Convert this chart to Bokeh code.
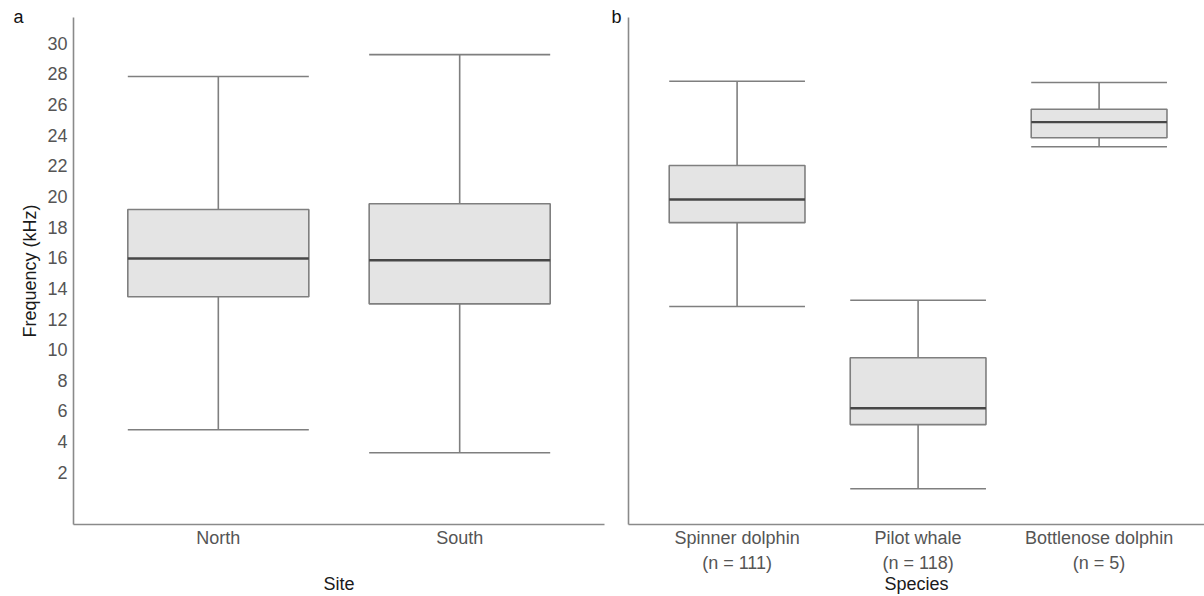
from bokeh.plotting import figure
from bokeh.layouts import row
from bokeh.models import Range1d, FixedTicker, Title, ColumnDataSource
from bokeh.embed import file_html
from bokeh.resources import INLINE

# ---------------- data ----------------
sites = ["North", "South"]
site_lower = [4.77, 3.27]
site_q1 = [13.45, 12.99]
site_median = [15.95, 15.84]
site_q3 = [19.15, 19.52]
site_upper = [27.83, 29.26]

species = ["Spinner dolphin", "Pilot whale", "Bottlenose dolphin"]
species_n = [111, 118, 5]
species_lower = [12.82, 0.92, 23.24]
species_q1 = [18.29, 5.11, 23.83]
species_median = [19.80, 6.18, 24.85]
species_q3 = [22.02, 9.47, 25.69]
species_upper = [27.52, 13.23, 27.44]

y_ticks = [2, 4, 6, 8, 10, 12, 14, 16, 18, 20, 22, 24, 26, 28, 30]

FONT = "Liberation Sans"
BOX_W = 0.75
LINE_C = "#7f7f7f"
AXIS_C = "#8a8a8a"
FILL_C = "#e4e4e4"
MED_C = "#474747"
TICK_C = "#555555"
TITLE_C = "#1a1a1a"


def make_panel(names, tick_texts, lower, q1, med, q3, upper, width, border_left,
               border_right, x_end, y_label, x_label, show_y, tag, tag_offset):
    pos = [i + 1 for i in range(len(names))]
    src = ColumnDataSource(dict(
        x=pos,
        x0=[p - BOX_W / 2 for p in pos],
        x1=[p + BOX_W / 2 for p in pos],
        lower=lower, q1=q1, med=med, q3=q3, upper=upper,
    ))
    p = figure(width=width, height=596, output_backend="svg", toolbar_location=None,
               x_range=Range1d(0.4, x_end), y_range=Range1d(-1.41, 31.68),
               min_border_left=border_left, min_border_right=border_right,
               min_border_top=17, min_border_bottom=72,
               title=Title(text=tag, align="left", offset=tag_offset, standoff=-19,
                           text_font=FONT, text_font_size="18px",
                           text_font_style="normal", text_color="#111111"))
    p.outline_line_color = None
    p.xgrid.visible = False
    p.ygrid.visible = False
    p.background_fill_color = "white"
    p.border_fill_color = "white"

    # whiskers
    p.segment(x0="x", x1="x", y0="q3", y1="upper", source=src, line_color=LINE_C, line_width=1.6)
    p.segment(x0="x", x1="x", y0="lower", y1="q1", source=src, line_color=LINE_C, line_width=1.6)
    p.segment(x0="x0", x1="x1", y0="upper", y1="upper", source=src, line_color=LINE_C, line_width=1.6)
    p.segment(x0="x0", x1="x1", y0="lower", y1="lower", source=src, line_color=LINE_C, line_width=1.6)
    # box
    p.vbar(x="x", width=BOX_W, bottom="q1", top="q3", source=src,
           fill_color=FILL_C, line_color=LINE_C, line_width=1.6)
    # median
    p.segment(x0="x0", x1="x1", y0="med", y1="med", source=src, line_color=MED_C, line_width=2.4)

    # x axis
    xa = p.xaxis[0]
    xa.ticker = FixedTicker(ticks=pos)
    xa.major_label_overrides = {pp: t for pp, t in zip(pos, tick_texts)}
    xa.major_tick_line_color = None
    xa.minor_tick_line_color = None
    xa.major_tick_out = 0
    xa.major_tick_in = 0
    xa.axis_line_color = AXIS_C
    xa.axis_line_width = 1.6
    xa.major_label_text_font = FONT
    xa.major_label_text_font_size = "18px"
    xa.major_label_text_color = TICK_C
    xa.major_label_standoff = 3
    xa.axis_label = x_label
    xa.axis_label_text_font = FONT
    xa.axis_label_text_font_size = "18px"
    xa.axis_label_text_font_style = "normal"
    xa.axis_label_text_color = TITLE_C

    # y axis
    ya = p.yaxis[0]
    ya.major_tick_line_color = None
    ya.minor_tick_line_color = None
    ya.major_tick_out = 0
    ya.major_tick_in = 0
    ya.axis_line_color = AXIS_C
    ya.axis_line_width = 1.6
    if show_y:
        ya.ticker = FixedTicker(ticks=y_ticks)
        ya.major_label_text_font = FONT
        ya.major_label_text_font_size = "18px"
        ya.major_label_text_color = TICK_C
        ya.major_label_standoff = 6
        ya.axis_label = y_label
        ya.axis_label_text_font = FONT
        ya.axis_label_text_font_size = "18px"
        ya.axis_label_text_font_style = "normal"
        ya.axis_label_text_color = TITLE_C
        ya.axis_label_standoff = 4
    else:
        ya.ticker = FixedTicker(ticks=[])
    return p, xa


left, lxa = make_panel(sites, sites, site_lower, site_q1, site_median, site_q3, site_upper,
                       width=608, border_left=73, border_right=4, x_end=2.6,
                       y_label="Frequency (kHz)", x_label="Site", show_y=True,
                       tag="a", tag_offset=-60)
lxa.axis_label_standoff = 23

species_ticks = [f"{s}\n(n = {n})" for s, n in zip(species, species_n)]
right, rxa = make_panel(species, species_ticks, species_lower, species_q1, species_median,
                        species_q3, species_upper, width=596, border_left=20, border_right=0,
                        x_end=0.4 + 576 / 181.0, y_label="", x_label="Species", show_y=False,
                        tag="b", tag_offset=-17)
rxa.major_label_text_line_height = 1.25
rxa.axis_label_standoff = -2

layout = row(left, right)
open("out.html", "w").write(file_html(layout, INLINE))
